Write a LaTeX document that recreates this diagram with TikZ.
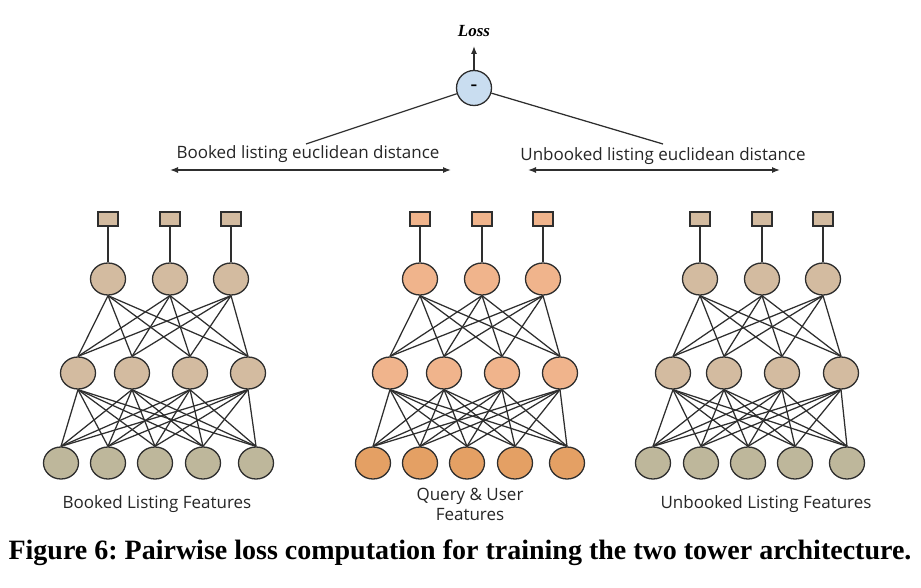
\documentclass[tikz,border=0pt]{standalone}
\usepackage{fontspec}
\setmainfont{Liberation Serif}
\newfontfamily\labfont{Open Sans}
\usetikzlibrary{shapes.geometric,arrows.meta}
\definecolor{tan}{HTML}{D3BBA0}
\definecolor{olive}{HTML}{BEB79B}
\definecolor{salmon}{HTML}{F0B48C}
\definecolor{orangec}{HTML}{E4A064}
\definecolor{minusblue}{HTML}{C9DDF0}
\definecolor{edge}{HTML}{2E2E2E}
\frenchspacing
\tikzset{
  neuron/.style={ellipse, draw=edge, line width=1.3pt, minimum width=35pt, minimum height=32pt, inner sep=0pt},
  outbox/.style={rectangle, draw=edge, line width=1.1pt, minimum width=20pt, minimum height=14pt, inner sep=0pt},
  conn/.style={draw=edge, line width=1.25pt},
  lab/.style={font=\labfont\fontsize{17}{20}\selectfont, text=black!85, inner sep=0pt, align=center},
  dist/.style={draw=edge, line width=1.3pt, {Latex[length=8pt,width=6pt]}-{Latex[length=8pt,width=6pt]}},
}
\begin{document}
\begin{tikzpicture}[x=1pt,y=-1pt]
\useasboundingbox (0,0) rectangle (921,588);
\fill[white] (0,0) rectangle (921,588);

% Left tower
\foreach \i/\x in {1/108,2/170,3/231} {
  \node[outbox, fill=tan] (Lo\i) at (\x,219) {};
  \node[neuron, fill=tan] (Lt\i) at (\x,279) {};
  \draw[conn] (Lo\i.south) -- (Lt\i.north);
}
\foreach \i/\x in {1/78,2/132,3/190,4/248} {
  \node[neuron, fill=tan] (Lm\i) at (\x,373) {};
}
\foreach \i/\x in {1/61,2/108,3/155,4/203,5/256} {
  \node[neuron, fill=olive] (Lb\i) at (\x,463) {};
}
% Middle tower
\foreach \i/\x in {1/420,2/482,3/543} {
  \node[outbox, fill=salmon] (Mo\i) at (\x,219) {};
  \node[neuron, fill=salmon] (Mt\i) at (\x,279) {};
  \draw[conn] (Mo\i.south) -- (Mt\i.north);
}
\foreach \i/\x in {1/390,2/444,3/502,4/560} {
  \node[neuron, fill=salmon] (Mm\i) at (\x,373) {};
}
\foreach \i/\x in {1/373,2/420,3/467,4/515,5/567} {
  \node[neuron, fill=orangec] (Mb\i) at (\x,463) {};
}
% Right tower
\foreach \i/\x in {1/700,2/762,3/823} {
  \node[outbox, fill=tan] (Ro\i) at (\x,219) {};
  \node[neuron, fill=tan] (Rt\i) at (\x,279) {};
  \draw[conn] (Ro\i.south) -- (Rt\i.north);
}
\foreach \i/\x in {1/673,2/724,3/782,4/841} {
  \node[neuron, fill=tan] (Rm\i) at (\x,373) {};
}
\foreach \i/\x in {1/653,2/701,3/748,4/795,5/847} {
  \node[neuron, fill=olive] (Rb\i) at (\x,463) {};
}

% full connections
\foreach \T in {L,M,R} {
  \foreach \a in {1,2,3} {
    \foreach \b in {1,2,3,4} {
      \draw[conn] (\T t\a.south) -- (\T m\b.north);
    }
  }
  \foreach \a in {1,2,3,4} {
    \foreach \b in {1,2,3,4,5} {
      \draw[conn] (\T m\a.south) -- (\T b\b.north);
    }
  }
}

% labels
\node[lab] (Llab) at (157,504) {Booked Listing Features};
\node[lab] (Mlab) at (470,504) {Query \& User\\Features};
\node[lab] (Rlab) at (766,504) {Unbooked Listing Features};

% loss part
\node[circle, draw=edge, line width=1.3pt, fill=minusblue, minimum size=35pt, inner sep=0pt, font=\bfseries\fontsize{20}{20}\selectfont] (minus) at (474,88) {-};
\node[font=\bfseries\itshape\fontsize{17}{19}\selectfont, inner sep=0pt] (loss) at (474,31) {Loss};
\draw[draw=edge, line width=1.3pt, -{Latex[length=8pt,width=6pt]}] (minus.north) -- (474,46);

\node[lab] (bdist) at (308,154) {Booked listing euclidean distance};
\node[lab] (udist) at (663,156) {Unbooked listing euclidean distance};
\coordinate (bl) at (170,170);
\coordinate (br) at (451,170);
\coordinate (ul) at (528,170);
\coordinate (ur) at (780,170);
\draw[dist] (bl) -- (br);
\draw[dist] (ul) -- (ur);
\coordinate (bt) at (306,144);
\coordinate (ut) at (663,144);
\draw[conn] (minus) -- (bt);
\draw[conn] (minus) -- (ut);

% caption
\node[font=\bfseries\fontsize{28}{30}\selectfont, inner sep=0pt] (cap) at (460,553) {Figure 6: Pairwise loss computation for training the two tower architecture.};
\end{tikzpicture}
\end{document}
